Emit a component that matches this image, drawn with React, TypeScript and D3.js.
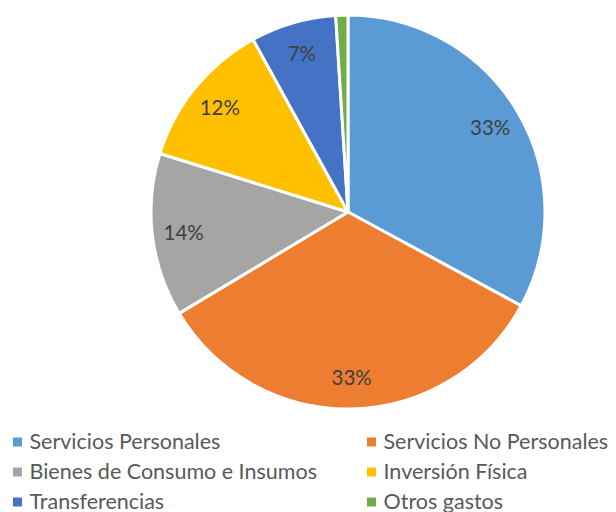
import React from "react";
import * as d3 from "d3";

const categories = [
  "Servicios Personales",
  "Servicios No Personales",
  "Bienes de Consumo e Insumos",
  "Inversión Física",
  "Transferencias",
  "Otros gastos",
];
const values = [32.9, 33.5, 13.4, 12.2, 7.0, 1.0];
const labels = ["33%", "33%", "14%", "12%", "7%", ""];
const colors = ["#5B9BD5", "#ED7D31", "#A5A5A5", "#FFC000", "#4472C4", "#70AD47"];

export default function App() {
  const W = 616, H = 512;
  const cx = 348, cy = 212, r = 197;
  const pie = d3.pie<number>().sort(null).value((d) => d)(values);
  const arc = d3.arc<d3.PieArcDatum<number>>().innerRadius(0).outerRadius(r);
  const labelArc = d3.arc<d3.PieArcDatum<number>>().innerRadius(r * 0.84).outerRadius(r * 0.84);
  const font = "Lato, 'Open Sans', sans-serif";
  const legendX = [13, 367];
  const legendY = [442, 472, 502];
  return (
    <svg width={W} height={H} style={{ position: "absolute", left: 0, top: 0 }}>
      <rect width={W} height={H} fill="#fff" />
      <g transform={`translate(${cx},${cy})`}>
        {pie.map((p, i) => (
          <path key={i} d={arc(p) || ""} fill={colors[i]} stroke="#fff" strokeWidth={3} strokeLinejoin="round" />
        ))}
        {pie.map((p, i) => {
          const [x, y] = labelArc.centroid(p);
          return (
            <text key={i} x={x} y={y} textAnchor="middle" dominantBaseline="central"
              fontFamily={font} fontSize={20.5} fill="#404040">{labels[i]}</text>
          );
        })}
      </g>
      {categories.map((c, i) => {
        const x = legendX[i % 2];
        const y = legendY[Math.floor(i / 2)];
        return (
          <g key={i}>
            <rect x={x} y={y - 4.5} width={9} height={9} fill={colors[i]} />
            <text x={x + 16.5} y={y + 6.5} fontFamily={font} fontSize={21.5} fill="#595959">{c}</text>
          </g>
        );
      })}
    </svg>
  );
}
